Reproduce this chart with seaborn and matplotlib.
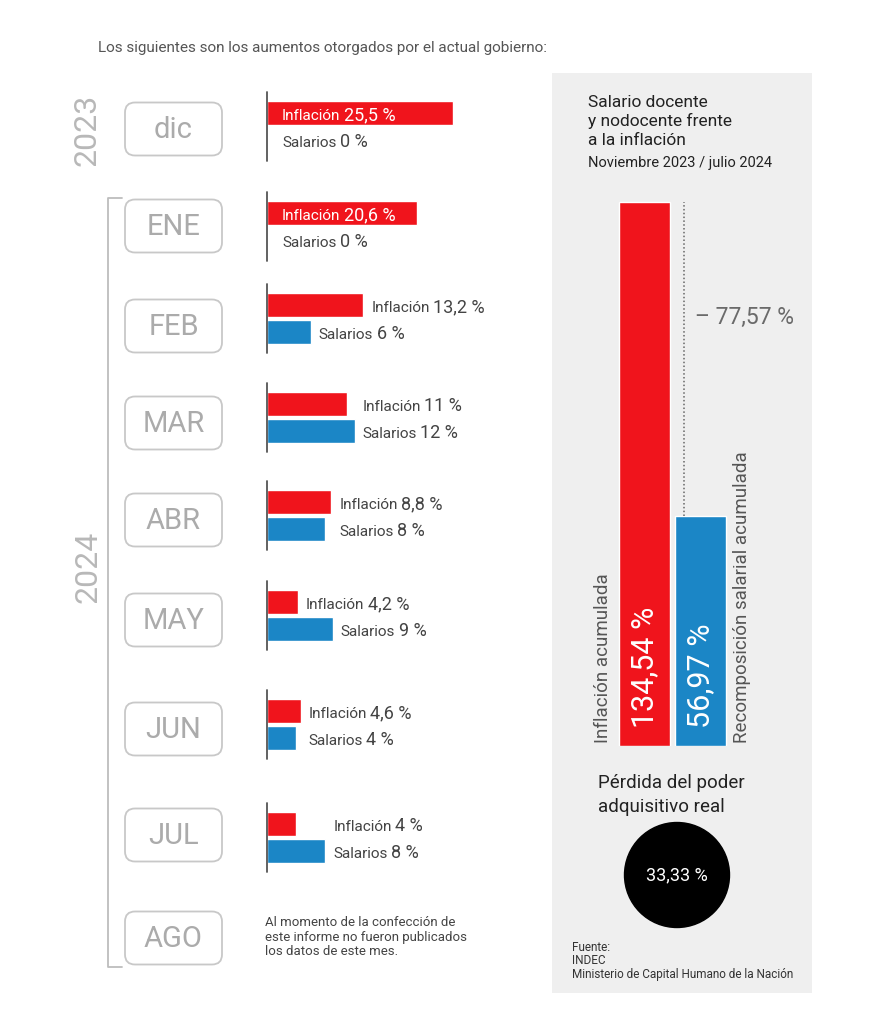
import numpy as np
import pandas as pd
import matplotlib
matplotlib.use('Agg')
import matplotlib.pyplot as plt
from matplotlib.patches import FancyBboxPatch, Rectangle, Circle
import seaborn as sns

# Aumentos mensuales (%)
meses = ['dic', 'ENE', 'FEB', 'MAR', 'ABR', 'MAY', 'JUN', 'JUL', 'AGO']
inflacion = [25.5, 20.6, 13.2, 11, 8.8, 4.2, 4.6, 4]
salarios = [0, 0, 6, 12, 8, 9, 4, 8]

# Acumulado noviembre 2023 / julio 2024
acum_cat = ['Inflación acumulada', 'Recomposición salarial acumulada']
acum_val = [134.54, 56.97]
perdida = 33.33

rojo = '#f0141c'
azul = '#1b86c6'


def pct(v):
    return f'{v:g}'.replace('.', ',') + ' %'


sns.set_theme(style='white')
plt.rcParams['font.family'] = ['Roboto', 'DejaVu Sans']

W, H = 869, 1024
fig = plt.figure(figsize=(W / 100, H / 100), dpi=100)

# capa de fondo en pixeles
bg = fig.add_axes([0, 0, 1, 1])
bg.set_xlim(0, W)
bg.set_ylim(H, 0)
bg.axis('off')


def ax_px(x, y, w, h):
    a = fig.add_axes([x / W, 1 - (y + h) / H, w / W, h / H])
    a.patch.set_alpha(0)
    return a


bg.text(98, 52, 'Los siguientes son los aumentos otorgados por el actual gobierno:',
        fontsize=11, color='#555555', va='baseline')

# años y corchete
bg.text(87, 130, '2023', rotation=90, fontsize=23, color='#b8b8b8',
        ha='center', va='center')
bg.text(88, 567, '2024', rotation=90, fontsize=23, color='#b8b8b8',
        ha='center', va='center')
bg.plot([122, 108, 108, 122], [198, 198, 967, 967], color='#bdbdbd', lw=1.3)

# cajas de meses
caja_y = [129, 226, 326, 423, 520, 620, 729, 835, 938]
for mes, cy in zip(meses, caja_y):
    bg.add_patch(FancyBboxPatch((125, cy - 26.5), 97, 53,
                                boxstyle='round,pad=0,rounding_size=10',
                                fc='white', ec='#c8c8c8', lw=1.3))
    bg.text(173.5, cy + 1, mes, fontsize=21, color='#ababab',
            ha='center', va='center')

bg.text(265, 916, 'Al momento de la confección de\neste informe no fueron publicados\nlos datos de este mes.',
        fontsize=9.5, color='#444444', va='top', linespacing=1.15)

# barras mensuales
barra_y = [113, 213, 305, 404, 502, 602, 711, 824]
escala = 7.3  # px por punto porcentual
propia = [False, False, True, False, False, True, False, False]
base = 0.27


def etiqueta(ax, x, y, palabra, numero, color):
    t = ax.text(x, y + base, palabra, fontsize=11, color=color, va='baseline', ha='left')
    ax.annotate(numero, xy=(1, y + base), xycoords=(t, 'data'), xytext=(2.5, 0),
                textcoords='offset points', fontsize=13, color=color,
                va='baseline', ha='left')


for i in range(len(inflacion)):
    ax = ax_px(267, barra_y[i] - 13.5, 230, 54)
    df = pd.DataFrame({'serie': ['Inflación', 'Salarios'],
                       'valor': [inflacion[i], salarios[i]]})
    sns.barplot(data=df, x='valor', y='serie', hue='serie', palette=[rojo, azul],
                orient='h', width=0.86, saturation=1, legend=False, ax=ax)
    ax.set_xlim(0, 230 / escala)
    ax.set_ylim(1.5, -0.5)
    ax.axis('off')
    ax.axvline(0, ymin=-0.14, ymax=1.14, clip_on=False, color='#555555', lw=1.3)
    pad = 8 / escala
    if i < 2:
        x0 = 15 / escala
        etiqueta(ax, x0, 0, 'Inflación', pct(inflacion[i]), 'white')
        etiqueta(ax, x0, 1, 'Salarios', pct(salarios[i]), '#444444')
    elif propia[i]:
        etiqueta(ax, inflacion[i] + pad, 0, 'Inflación', pct(inflacion[i]), '#444444')
        etiqueta(ax, salarios[i] + pad, 1, 'Salarios', pct(salarios[i]), '#444444')
    else:
        x0 = max(inflacion[i], salarios[i]) + pad
        etiqueta(ax, x0, 0, 'Inflación', pct(inflacion[i]), '#444444')
        etiqueta(ax, x0, 1, 'Salarios', pct(salarios[i]), '#444444')

# panel derecho
bg.add_patch(Rectangle((552, 73), 260, 920, fc='#efefef', ec='none', zorder=0))
for yy, linea in zip([107, 126, 145], ['Salario docente', 'y nodocente frente', 'a la inflación']):
    bg.text(588, yy, linea, fontsize=12.5, color='#222222', va='baseline')
bg.text(588, 167, 'Noviembre 2023 / julio 2024', fontsize=10.5, color='#222222', va='baseline')

ax2 = ax_px(616, 746 - 140 * 4.04, 113, 140 * 4.04)
sns.barplot(x=acum_cat, y=acum_val, hue=acum_cat, palette=[rojo, azul],
            width=0.9, saturation=1, legend=False, ax=ax2)
ax2.set_xlim(-0.5, 1.5)
ax2.set_ylim(0, 140)
ax2.axis('off')
ax2.plot([0.7, 0.7], [acum_val[1], acum_val[0]], color='#666666', lw=1.1,
         ls=(0, (1, 1.5)), clip_on=False)
for k, v in enumerate(acum_val):
    ax2.text(k, 4.5, pct(v), rotation=90, fontsize=22, color='white',
             ha='center', va='bottom')
ax2.text(0.9, 106, '– ' + pct(round(acum_val[0] - acum_val[1], 2)), fontsize=16.5,
         color='#6a6a6a', ha='left', va='center', clip_on=False)

bg.text(603, 743, acum_cat[0], rotation=90, fontsize=13.5, color='#555555',
        ha='center', va='bottom')
bg.text(742, 743, acum_cat[1], rotation=90, fontsize=13.5, color='#555555',
        ha='center', va='bottom')

bg.text(598, 788, 'Pérdida del poder', fontsize=13.5, color='#222222', va='baseline')
bg.text(598, 812, 'adquisitivo real', fontsize=13.5, color='#222222', va='baseline')
bg.add_patch(Circle((677, 875), 52.5, color='black'))
bg.text(677, 875, pct(perdida), fontsize=13, color='white', ha='center', va='center')

for yy, linea in zip([951, 964, 978], ['Fuente:', 'INDEC', 'Ministerio de Capital Humano de la Nación']):
    bg.text(572, yy, linea, fontsize=8.5, color='#333333', va='baseline')

fig.savefig('out.png', dpi=100)
